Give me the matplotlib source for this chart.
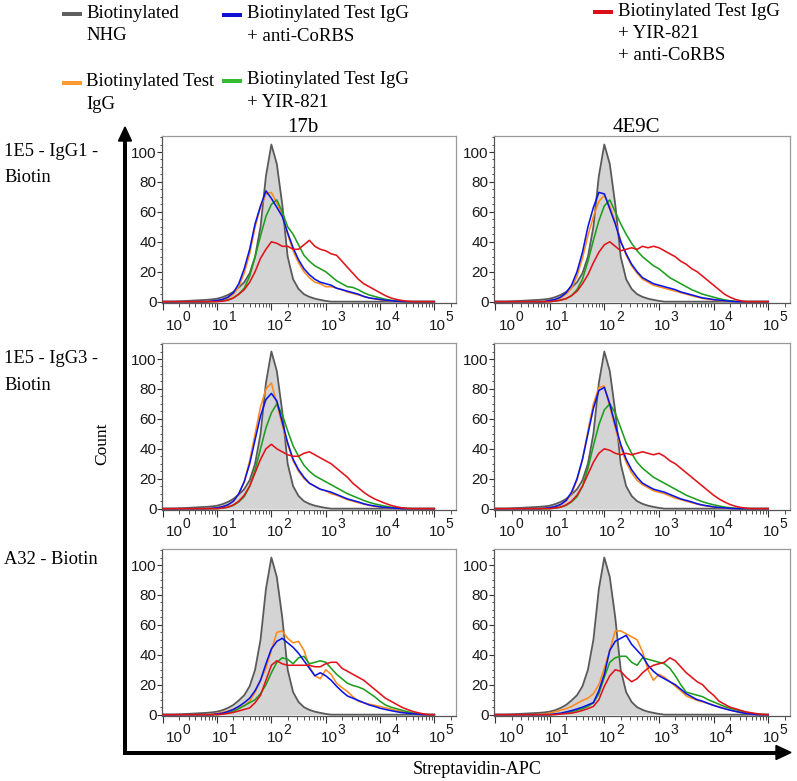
import numpy as np
import matplotlib
matplotlib.use("Agg")
import matplotlib.pyplot as plt
from matplotlib.lines import Line2D
from matplotlib.patches import Polygon
from matplotlib.ticker import FixedLocator, NullFormatter, AutoMinorLocator, LogLocator
import matplotlib.transforms as mtransforms

# ---------------- data ----------------
LOG_X = [0.0, 0.1, 0.2, 0.3, 0.4, 0.5, 0.6, 0.7, 0.8, 0.9,
         1.0, 1.1, 1.2, 1.3, 1.4, 1.5, 1.6, 1.7, 1.8, 1.9,
         2.0, 2.1, 2.2, 2.3, 2.4, 2.5, 2.6, 2.7, 2.8, 2.9,
         3.0, 3.1, 3.2, 3.3, 3.4, 3.5, 3.6, 3.7, 3.8, 3.9,
         4.0, 4.1, 4.2, 4.3, 4.4, 4.5, 4.6, 4.7, 4.8, 4.9,
         5.0]

COL_TITLES = ["17b", "4E9C"]
ROW_LABELS = [["1E5 - IgG1 -", "Biotin"], ["1E5 - IgG3 -", "Biotin"], ["A32 - Biotin"]]
SERIES_NAMES = ["Biotinylated\nNHG", "Biotinylated Test\nIgG", "Biotinylated Test IgG\n+ anti-CoRBS",
                "Biotinylated Test IgG\n+ YIR-821", "Biotinylated Test IgG\n+ YIR-821\n+ anti-CoRBS"]
Y_TICKS = [0, 20, 40, 60, 80, 100]
X_DECADES = [0, 1, 2, 3, 4, 5]

GRAY = [0, 0, 0, 0.2, 0.4, 0.6, 0.8, 1.0, 1.2, 1.5,
        2.0, 3.0, 4.5, 6.5, 9.5, 13, 19, 30, 50, 84,
        105, 92, 65, 30, 15, 8.5, 5, 3.2, 2, 1.2,
        0.5, 0, 0, 0, 0, 0, 0, 0, 0, 0,
        0, 0, 0, 0, 0, 0, 0, 0, 0, 0,
        0]

# Row 1, column 1 (1E5-IgG1, 17b)
R1C1_ORANGE = [0, 0, 0, 0, 0, 0, 0, 0, 0, 0.2,
               0.5, 1.2, 2.5, 5, 10, 19, 32, 50, 63, 72,
               73, 66, 58, 45, 34, 26, 20, 16, 13, 12,
               10, 10, 9, 8, 6.5, 5.5, 4.5, 3.5, 2.5, 1.8,
               1.2, 0.8, 0.5, 0.2, 0, 0, 0, 0, 0, 0,
               0]
R1C1_GREEN = [0, 0, 0, 0, 0, 0, 0, 0, 0, 0,
              0.2, 0.5, 1.2, 2.5, 5, 9, 17, 30, 44, 57,
              65, 68, 60, 50, 45, 38, 31, 27, 24, 22,
              20, 17, 14, 12, 10, 9.5, 8, 6, 4.5, 3.5,
              2.5, 1.6, 1, 0.5, 0.2, 0, 0, 0, 0, 0,
              0]
R1C1_BLUE = [0, 0, 0, 0, 0, 0, 0, 0, 0, 0.3,
             0.8, 1.5, 3, 6, 12, 22, 35, 52, 64, 74,
             69, 63, 57, 46, 36, 28, 22, 18, 15, 13,
             12, 11, 9, 8, 7, 6, 5, 3.5, 2.5, 2,
             1.5, 1, 0.6, 0.3, 0.1, 0, 0, 0, 0, 0,
             0]
R1C1_RED = [0, 0, 0, 0, 0, 0, 0, 0, 0, 0,
            0, 0.3, 1, 2.5, 5, 8, 13, 20, 29, 35,
            40, 39, 37, 37, 35, 35, 38, 41, 37, 35,
            34, 32, 31, 27, 23, 19, 15, 12, 10, 8,
            6, 4, 2.5, 1.5, 0.8, 0.3, 0, 0, 0, 0,
            0]

# Row 1, column 2 (1E5-IgG1, 4E9C)
R1C2_ORANGE = [0, 0, 0, 0, 0, 0, 0, 0, 0, 0,
               0.6, 1.2, 2.5, 5, 9, 17, 29, 44, 57, 67,
               71, 64, 53, 41, 31, 24, 19, 15, 13, 11,
               10, 9, 8, 7, 6, 5, 4, 3, 2.2, 1.6,
               1.1, 0.7, 0.4, 0.2, 0, 0, 0, 0, 0, 0,
               0]
R1C2_GREEN = [0, 0, 0, 0, 0, 0, 0, 0, 0, 0,
              0, 0.4, 1, 2, 4, 8, 15, 27, 41, 54,
              64, 68, 60, 52, 45, 39, 34, 30, 27, 24,
              22, 19, 16, 14, 12, 10, 8, 6.5, 5, 4,
              3, 2, 1.2, 0.6, 0.2, 0, 0, 0, 0, 0,
              0]
R1C2_BLUE = [0, 0, 0, 0, 0, 0, 0, 0, 0, 0,
             0.8, 1.5, 3, 6, 11, 20, 33, 50, 63, 73,
             72, 62, 52, 40, 32, 25, 20, 16, 14, 12,
             11, 10, 9, 8, 6.5, 5.5, 4.5, 3.5, 2.5, 2,
             1.4, 1, 0.6, 0.3, 0, 0, 0, 0, 0, 0,
             0]
R1C2_RED = [0, 0, 0, 0, 0, 0, 0, 0, 0, 0,
            0, 0.4, 1, 2, 4, 7, 12, 18, 26, 33,
            38, 40, 37, 34, 35, 36, 35, 37, 36, 37,
            36, 34, 32, 30, 27, 25, 22, 20, 17, 14,
            11, 8, 5, 3, 1.5, 0.6, 0, 0, 0, 0,
            0]

# Row 2, column 1 (1E5-IgG3, 17b)
R2C1_ORANGE = [0, 0, 0, 0, 0, 0, 0, 0, 0, 0.2,
               0.5, 1.2, 2.5, 5, 10, 18, 32, 50, 68, 80,
               84, 70, 56, 43, 32, 25, 20, 17, 15, 13,
               12, 10, 9, 7.5, 6, 5, 4, 3, 2.2, 1.6,
               1.1, 0.7, 0.4, 0.2, 0, 0, 0, 0, 0, 0,
               0]
R2C1_GREEN = [0, 0, 0, 0, 0, 0, 0, 0, 0, 0,
              0, 0.4, 1, 2.2, 4.5, 8, 15, 26, 40, 54,
              64, 70, 63, 52, 42, 35, 29, 25, 22, 20,
              18, 16, 14, 12, 10, 8.5, 7, 5.5, 4.2, 3.2,
              2.4, 1.6, 1, 0.5, 0.2, 0, 0, 0, 0, 0,
              0]
R2C1_BLUE = [0, 0, 0, 0, 0, 0, 0, 0, 0, 0.2,
             0.6, 1.3, 2.6, 5, 10, 18, 30, 46, 62, 73,
             77, 72, 58, 44, 33, 26, 21, 17, 15, 13,
             12, 11, 9.5, 8, 6.5, 5.5, 4.5, 3.3, 2.4, 1.8,
             1.2, 0.8, 0.5, 0.2, 0, 0, 0, 0, 0, 0,
             0]
R2C1_RED = [0, 0, 0, 0, 0, 0, 0, 0, 0, 0,
            0, 0.4, 1, 2.5, 5, 9, 15, 24, 33, 40,
            43, 40, 38, 36, 35, 35, 37, 38, 36, 34,
            32, 30, 27, 24, 21, 17, 14, 11, 8.5, 6.5,
            5, 3.5, 2.2, 1.3, 0.6, 0.2, 0, 0, 0, 0,
            0]

# Row 2, column 2 (1E5-IgG3, 4E9C)
R2C2_ORANGE = [0, 0, 0, 0, 0, 0, 0, 0, 0, 0.2,
               0.6, 1.3, 2.6, 5, 10, 19, 33, 52, 70, 81,
               82, 68, 54, 41, 31, 24, 19, 16, 14, 12,
               11, 10, 8.5, 7, 6, 5, 4, 3, 2.2, 1.6,
               1.1, 0.7, 0.4, 0.2, 0, 0, 0, 0, 0, 0,
               0]
R2C2_GREEN = [0, 0, 0, 0, 0, 0, 0, 0, 0, 0,
              0, 0.4, 1, 2.2, 4.5, 8, 15, 27, 42, 56,
              66, 70, 64, 54, 44, 37, 31, 27, 24, 21,
              19, 17, 15, 13, 11, 9, 7.5, 6, 4.6, 3.5,
              2.6, 1.8, 1.1, 0.6, 0.2, 0, 0, 0, 0, 0,
              0]
R2C2_BLUE = [0, 0, 0, 0, 0, 0, 0, 0, 0, 0.2,
             0.7, 1.4, 2.8, 5.5, 11, 20, 33, 50, 67, 79,
             81, 70, 56, 43, 33, 26, 21, 17, 15, 13,
             12, 11, 9.5, 8, 6.5, 5.5, 4.5, 3.3, 2.4, 1.8,
             1.2, 0.8, 0.5, 0.2, 0, 0, 0, 0, 0, 0,
             0]
R2C2_RED = [0, 0, 0, 0, 0, 0, 0, 0, 0, 0,
            0, 0.4, 1, 2.5, 5, 9, 15, 23, 31, 37,
            40, 39, 37, 36, 37, 36, 37, 38, 37, 36,
            37, 35, 32, 30, 27, 24, 21, 18, 15, 12,
            9, 6.5, 4.5, 2.8, 1.6, 0.8, 0.3, 0, 0, 0,
            0]

# Row 3, column 1 (A32, 17b)
R3C1_ORANGE = [0, 0, 0, 0, 0, 0, 0, 0, 0, 0.3,
               0.8, 1.5, 2.5, 3.5, 5, 6, 9, 15, 23, 31,
               43, 55, 56, 51, 48, 49, 43, 32, 26, 24,
               30, 27, 21, 18, 15.5, 12, 9, 8, 7, 6.3,
               5.5, 4.6, 3.7, 2.8, 2, 1.3, 0.8, 0.3, 0, 0,
               0]
R3C1_GREEN = [0, 0, 0, 0, 0, 0, 0, 0, 0, 0,
              0, 0.5, 1.2, 2.3, 4, 6, 8, 10, 14, 20,
              28, 35, 38, 37, 34, 38, 39, 34, 35, 36,
              35, 31, 27, 24, 21, 19.5, 18.5, 17, 14.5, 12,
              9, 6.5, 5, 4, 3, 2, 1.2, 0.6, 0.2, 0,
              0]
R3C1_BLUE = [0, 0, 0, 0, 0, 0, 0, 0, 0, 0,
             0.5, 1, 2, 3.5, 5.5, 8, 11, 16, 23, 34,
             44, 49, 51, 48, 45, 41, 36, 31, 26, 28,
             26, 23, 19, 15.5, 12.5, 11, 9.5, 8, 6.5, 5.5,
             4.3, 3.5, 2.7, 2, 1.4, 1, 0.6, 0.3, 0, 0,
             0]
R3C1_RED = [0, 0, 0, 0, 0, 0, 0, 0, 0, 0,
            0, 0.3, 0.8, 1.5, 2.5, 3.5, 4.5, 8, 13, 23,
            33, 36, 34, 33, 33, 33, 33, 33, 32, 32,
            34, 35, 35, 31, 29, 27, 25, 23, 20, 17,
            14, 11, 9, 7, 5, 3.5, 2.2, 1.3, 0.5, 0,
            0]

# Row 3, column 2 (A32, 4E9C)
R3C2_ORANGE = [0, 0, 0, 0, 0, 0, 0, 0, 0.2, 0.5,
               1, 2, 3, 4, 5.5, 7.5, 9.5, 11, 14, 20,
               31, 43, 56, 56, 54, 52, 50, 42, 30, 23,
               27, 25, 22, 19, 16, 12.5, 11, 9.5, 8.5, 7.5,
               6.3, 5.3, 4.2, 3.1, 2.2, 1.5, 0.9, 0.5, 0.2, 0,
               0]
R3C2_GREEN = [0, 0, 0, 0, 0, 0, 0, 0, 0, 0,
              0, 0.3, 0.6, 1, 2, 3, 4, 5.5, 8, 14,
              25, 35, 38, 39, 39, 35, 33, 38, 37, 36,
              35, 34, 31, 26, 20, 15, 14, 13, 12, 10,
              8.5, 7, 5.5, 4.3, 3.3, 2.4, 1.5, 0.8, 0.3, 0,
              0]
R3C2_BLUE = [0, 0, 0, 0, 0, 0, 0, 0, 0, 0,
             0, 0.5, 1, 1.8, 2.7, 3.8, 5, 6.5, 8, 16,
             27, 43, 49, 51, 53, 47, 43, 39, 33, 29,
             26, 24, 22, 20, 17, 14, 12, 10, 9, 7.5,
             6.2, 5, 4, 3, 2.2, 1.4, 0.8, 0.4, 0, 0,
             0]
R3C2_RED = [0, 0, 0, 0, 0, 0, 0, 0, 0, 0,
            0, 0, 0.4, 0.7, 1, 1.8, 2.8, 4, 5.5, 10,
            19, 26, 30, 29, 25, 22, 24, 28, 31, 33,
            34, 35, 38, 36, 32, 28, 25, 22, 20, 16,
            13, 9, 7, 5, 4, 2.8, 1.8, 1.2, 0.6, 0.2,
            0]

PANELS = [
    [dict(orange=R1C1_ORANGE, green=R1C1_GREEN, blue=R1C1_BLUE, red=R1C1_RED),
     dict(orange=R1C2_ORANGE, green=R1C2_GREEN, blue=R1C2_BLUE, red=R1C2_RED)],
    [dict(orange=R2C1_ORANGE, green=R2C1_GREEN, blue=R2C1_BLUE, red=R2C1_RED),
     dict(orange=R2C2_ORANGE, green=R2C2_GREEN, blue=R2C2_BLUE, red=R2C2_RED)],
    [dict(orange=R3C1_ORANGE, green=R3C1_GREEN, blue=R3C1_BLUE, red=R3C1_RED),
     dict(orange=R3C2_ORANGE, green=R3C2_GREEN, blue=R3C2_BLUE, red=R3C2_RED)],
]

# ---------------- style ----------------
LINE_COLORS = dict(gray="#5a5a5a", orange="#ff8a1c", green="#1e9e1e", blue="#0a14e6", red="#e0141a")
LEG_COLORS = ["#5f5f5f", "#ff9a30", "#1010d0", "#33bb33", "#d81018"]
FILL_COLOR = "#d4d4d4"
SERIF = ["Liberation Serif", "DejaVu Serif"]
SANS = ["Liberation Sans", "DejaVu Sans"]

W, H, DPI = 797, 781, 100
plt.rcParams["font.family"] = SERIF

fig = plt.figure(figsize=(W / DPI, H / DPI), dpi=DPI)


def fx(x):
    return x / W


def fy(y):
    return 1 - y / H


COL_X = [(161.7, 456.0), (494.0, 790.0)]
ROW_Y = [(136.0, 303.0), (343.0, 510.0), (549.0, 716.0)]

xs = 10 ** np.array(LOG_X)
for series in [GRAY] + [v for row in PANELS for p in row for v in p.values()]:
    assert len(series) == len(LOG_X)

for r, (t, b) in enumerate(ROW_Y):
    for c, (l, rr) in enumerate(COL_X):
        ax = fig.add_axes([fx(l), fy(b), (rr - l) / W, (b - t) / H])
        p = PANELS[r][c]
        ax.fill_between(xs, GRAY, 0, color=FILL_COLOR, lw=0, zorder=1)
        ax.plot(xs, GRAY, color=LINE_COLORS["gray"], lw=1.3, zorder=2)
        for key in ["orange", "green", "blue", "red"]:
            ax.plot(xs, p[key], color=LINE_COLORS[key], lw=1.15, zorder=3)
        ax.set_xscale("log")
        ax.set_xlim(10 ** -0.02, 10 ** 5.4)
        ax.set_ylim(-0.9, 110.7)
        ax.xaxis.set_major_locator(FixedLocator([10.0 ** k for k in X_DECADES]))
        ax.xaxis.set_minor_locator(LogLocator(base=10, subs=np.arange(2, 10), numticks=30))
        ax.xaxis.set_major_formatter(NullFormatter())
        ax.xaxis.set_minor_formatter(NullFormatter())
        ax.set_yticks(Y_TICKS)
        ax.yaxis.set_minor_locator(AutoMinorLocator(4))
        ax.tick_params(axis="x", which="major", direction="out", length=5, width=0.8, color="#333333")
        ax.tick_params(axis="x", which="minor", direction="out", length=3, width=0.6, color="#333333")
        ax.tick_params(axis="y", which="major", direction="out", length=3.3, width=0.8, color="#333333",
                       pad=0.5, labelsize=11, labelcolor="#1a1a1a")
        ax.tick_params(axis="y", which="minor", direction="out", length=1.8, width=0.6, color="#333333")
        for lab in ax.get_yticklabels():
            lab.set_family(SANS)
        for side in ["top", "right"]:
            ax.spines[side].set_color("#9a9a9a")
            ax.spines[side].set_linewidth(0.9)
        for side in ["left", "bottom"]:
            ax.spines[side].set_color("#555555")
            ax.spines[side].set_linewidth(0.9)
        # x tick labels "10" with superscripted exponent
        blend = mtransforms.blended_transform_factory(ax.transData, ax.transAxes)
        for k in X_DECADES:
            dx = 3.5 if k == 0 else -5.0
            tr_b = blend + mtransforms.ScaledTranslation(dx / DPI, -26.5 / DPI, fig.dpi_scale_trans)
            tr_s = blend + mtransforms.ScaledTranslation((dx + 16.5) / DPI, -18.0 / DPI, fig.dpi_scale_trans)
            ax.text(10.0 ** k, 0, "10", transform=tr_b, ha="left", va="baseline", fontsize=11,
                    family=SANS, color="#1a1a1a", clip_on=False)
            ax.text(10.0 ** k, 0, str(k), transform=tr_s, ha="left", va="baseline", fontsize=10,
                    family=SANS, color="#1a1a1a", clip_on=False)
        if r == 0:
            ax.text(0.48, 1.0, COL_TITLES[c],
                    transform=ax.transAxes + mtransforms.ScaledTranslation(0, 3.5 / DPI, fig.dpi_scale_trans),
                    ha="center", va="baseline", fontsize=15)

# row labels
ROW_LABEL_Y = [[151, 178], [359, 386], [559]]
for lines, ys in zip(ROW_LABELS, ROW_LABEL_Y):
    for txt, y in zip(lines, ys):
        fig.text(fx(4), fy(y), txt, ha="left", va="center", fontsize=13.3)

# axis titles
fig.text(fx(102), fy(444), "Count", rotation=90, ha="center", va="center", fontsize=12.5)
fig.text(fx(477), fy(769), "Streptavidin-APC", ha="center", va="center", fontsize=13)

# big arrows
lw_arrow = 4 * 72 / DPI
fig.add_artist(Line2D([fx(125), fx(125)], [fy(754), fy(138)], color="black", lw=lw_arrow, solid_capstyle="butt"))
fig.add_artist(Line2D([fx(123), fx(779)], [fy(752.5), fy(752.5)], color="black", lw=lw_arrow, solid_capstyle="butt"))
fig.add_artist(Polygon([[fx(118.5), fy(141)], [fx(131.5), fy(141)], [fx(125), fy(127)]], closed=True,
                       color="black", transform=fig.transFigure))
fig.add_artist(Polygon([[fx(776), fy(745.5)], [fx(776), fy(759.5)], [fx(791), fy(752.5)]], closed=True,
                       color="black", transform=fig.transFigure))

# legend
LEG_POS = [(62, 14), (62, 83), (222, 15), (222, 81), (593, 12)]
LINE_STEP = 22.5
for name, col, (x0, y0) in zip(SERIES_NAMES, LEG_COLORS, LEG_POS):
    fig.add_artist(Line2D([fx(x0), fx(x0 + 20)], [fy(y0), fy(y0)], color=col, lw=4 * 72 / DPI,
                          solid_capstyle="butt"))
    for i, line in enumerate(name.split("\n")):
        fig.text(fx(x0 + 24.5), fy(y0 - 1 + i * LINE_STEP), line, ha="left", va="center", fontsize=13.5)

fig.savefig("out.png", dpi=DPI)
